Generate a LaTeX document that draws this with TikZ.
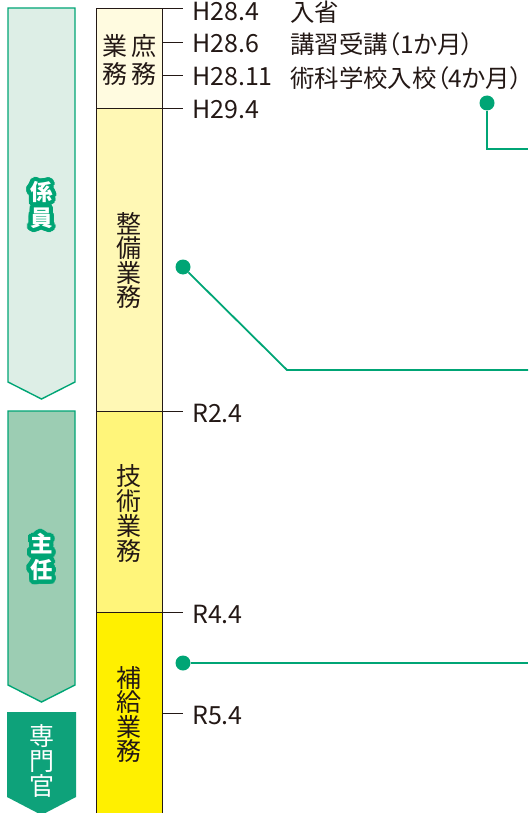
\documentclass[tikz,border=0pt]{standalone}
\usepackage{fontspec}
\setmainfont{Noto Sans CJK JP}
\newfontfamily\eventfont[RawFeature=+palt]{Noto Sans CJK JP}
\usetikzlibrary{calc,positioning}

\definecolor{careergreen}{HTML}{00A575}
\definecolor{rankpale}{HTML}{DDEEE6}
\definecolor{rankmid}{HTML}{9CCDB3}
\definecolor{rankdeep}{HTML}{0EA27A}
\definecolor{dutyA}{HTML}{FFFBE0}
\definecolor{dutyB}{HTML}{FFF8B5}
\definecolor{dutyC}{HTML}{FFF57A}
\definecolor{dutyD}{HTML}{FFF000}
\definecolor{inkgray}{HTML}{231815}

% rank label with a green halo round white letters
\newcommand{\ranklabel}[3]{%
  \foreach \ang in {0,15,...,345}
    \node[rankhalo] at ($(#2)+(\ang:4)$) {#3};
  \node[rankword] (#1) at (#2) {#3};
}

\begin{document}
\begin{tikzpicture}[x=1pt,y=-1pt,
	bar/.style={draw=inkgray, line width=0.8pt, minimum width=66pt, anchor=north, inner sep=0pt, outer sep=0pt},
	tick/.style={draw=inkgray, line width=0.8pt},
	datelabel/.style={anchor=west, text=inkgray, inner sep=0pt, font=\fontsize{25}{25}\selectfont},
	eventlabel/.style={anchor=west, text=inkgray, inner sep=0pt, font=\eventfont\fontsize{24.4}{24.4}\selectfont},
	duty/.style={align=center, text=inkgray, font=\fontsize{25}{24.5}\selectfont},
	rankhalo/.style={align=center, text=careergreen, inner sep=0pt, font=\bfseries\fontsize{22.5}{26}\selectfont},
	rankword/.style={align=center, text=white, inner sep=0pt, font=\bfseries\fontsize{22.5}{26}\selectfont},
	link/.style={draw=careergreen, line width=1.8pt},
	dot/.style={circle, fill=careergreen, minimum size=15pt, inner sep=0pt},
]
	\useasboundingbox (0,0) rectangle (528,813);

	% Rank arrows
	\draw[careergreen, line width=1.4pt, fill=rankpale] (8,8) -- (75,8) -- (75,382) -- (41.5,399) -- (8,382) -- cycle;
	\draw[careergreen, line width=1.4pt, fill=rankmid] (8,411) -- (75,411) -- (75,685) -- (41.5,702) -- (8,685) -- cycle;
	\fill[rankdeep] (7,712) -- (76,712) -- (76,797) -- (41.5,815) -- (7,797) -- cycle;

	\ranklabel{kakari}{41.5,205}{係\\員}
	\ranklabel{shunin}{41.5,557}{主\\任}
	\node[align=center, text=white, inner sep=0pt, font=\fontsize{25}{25}\selectfont] (senmon) at (41.5,761) {専\\門\\官};

	% Duty bar
	\node[bar, fill=dutyA, minimum height=100pt] (somu) at (129,8) {};
	\node[bar, fill=dutyB, minimum height=303pt, below=0pt of somu] (seibi) {};
	\node[bar, fill=dutyC, minimum height=201pt, below=0pt of seibi] (gijutsu) {};
	\node[bar, fill=dutyD, minimum height=205pt, below=0pt of gijutsu] (hokyu) {};

	\node[duty, font=\fontsize{25}{28}\selectfont] at ($(somu.center)+(0,2)$) {業\hspace{4pt}庶\\務\hspace{4pt}務};
	\node[duty] at ($(seibi.center)+(0,1)$) {整\\備\\業\\務};
	\node[duty, font=\fontsize{25}{25}\selectfont] at ($(gijutsu.center)+(0,2)$) {技\\術\\業\\務};
	\node[duty] at (hokyu.center) {補\\給\\業\\務};

	% Dates
	\foreach \y/\ly/\date [count=\i] in {8/11.5/H28.4, 42/44/H28.6, 75/77/H28.11, 108/110/H29.4, 411/413/R2.4, 612/614/R4.4, 713/715/R5.4}{
		\draw[tick] (162,\y) -- (183,\y) coordinate (tick\i);
		\node[datelabel] (date\i) at (192,\ly) {\date};
	}

	% Events
	\node[eventlabel] (nyusho) at (290,12) {入省};
	\node[eventlabel] (koshu) at (290,44) {講習受講（1か月）};
	\node[eventlabel] (jutsuka) at (290,78) {術科学校入校（4か月）};

	% Connectors
	\node[dot] (dotA) at (487,103) {};
	\node[dot] (dotB) at (183,267) {};
	\node[dot] (dotC) at (183,663) {};
	\coordinate (endA) at (528,149);
	\coordinate (bendB) at (287,370);
	\coordinate (endB) at (528,370);
	\coordinate (endC) at (528,663);
	\draw[link] (dotA) |- (endA);
	\draw[link] (dotB) -- (bendB) -- (endB);
	\draw[link] (dotC) -- (endC);
\end{tikzpicture}
\end{document}
